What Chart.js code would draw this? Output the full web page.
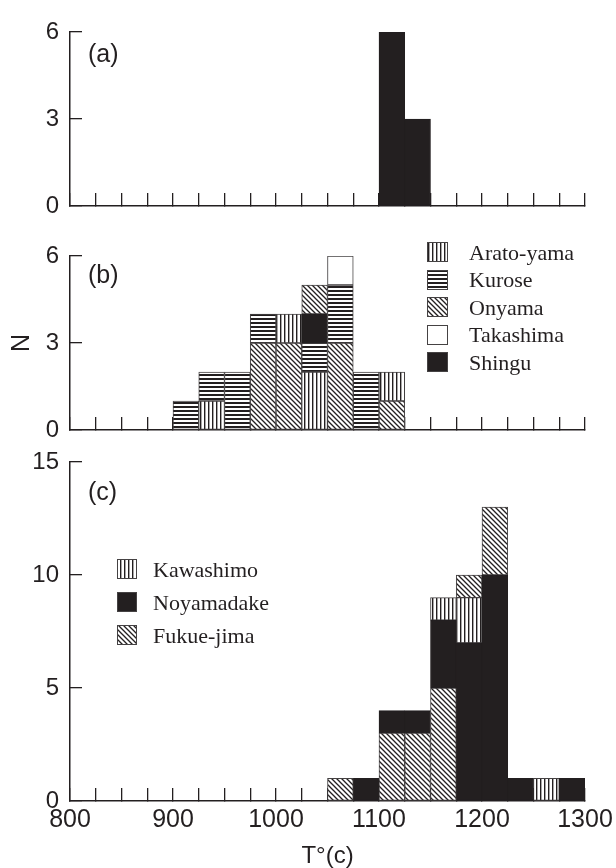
<!DOCTYPE html>
<html>
<head>
<meta charset="utf-8">
<script src="https://cdn.jsdelivr.net/npm/chart.js@4/dist/chart.umd.min.js"></script>
<style>
  html, body { margin: 0; padding: 0; background: #fff; }
  #wrap { position: relative; width: 616px; height: 868px; overflow: hidden; }
  #wrap canvas { position: absolute; left: 0; }
</style>
</head>
<body>
<div id="wrap">
  <canvas id="panelA" width="616" height="218" style="top:0px"></canvas>
  <canvas id="panelB" width="616" height="224" style="top:218px"></canvas>
  <canvas id="panelC" width="616" height="426" style="top:442px"></canvas>
</div>
<script>
// ---- data -------------------------------------------------------------
// lower edge of each 25-degree temperature bin (°C)
const binStarts = [800, 825, 850, 875, 900, 925, 950, 975, 1000, 1025,
                   1050, 1075, 1100, 1125, 1150, 1175, 1200, 1225, 1250, 1275];
const binWidth = 25;
const xTickEdges = [800, 825, 850, 875, 900, 925, 950, 975, 1000, 1025, 1050,
                    1075, 1100, 1125, 1150, 1175, 1200, 1225, 1250, 1275, 1300];
const xTickLabels = [800, 900, 1000, 1100, 1200, 1300];
const yTicksA = [0, 3, 6];
const yTicksB = [0, 3, 6];
const yTicksC = [0, 5, 10, 15];

// (a)
const countsA      = [0,0,0,0,0,0,0,0,0,0,0,0,6,3,0,0,0,0,0,0];
// (b)
const aratoYama    = [0,0,0,0,0,1,0,0,1,2,0,0,1,0,0,0,0,0,0,0];
const kurose       = [0,0,0,0,1,1,2,1,0,1,2,2,0,0,0,0,0,0,0,0];
const onyama       = [0,0,0,0,0,0,0,3,3,0,3,0,1,0,0,0,0,0,0,0];
const onyamaTop    = [0,0,0,0,0,0,0,0,0,1,0,0,0,0,0,0,0,0,0,0];
const takashima    = [0,0,0,0,0,0,0,0,0,0,1,0,0,0,0,0,0,0,0,0];
const shingu       = [0,0,0,0,0,0,0,0,0,1,0,0,0,0,0,0,0,0,0,0];
// (c)
const kawashimo    = [0,0,0,0,0,0,0,0,0,0,0,0,0,0,1,2,0,0,1,0];
const noyamadake   = [0,0,0,0,0,0,0,0,0,0,0,1,1,1,3,7,10,1,0,1];
const fukueJima    = [0,0,0,0,0,0,0,0,0,0,1,0,3,3,5,0,0,0,0,0];
const fukueJimaTop = [0,0,0,0,0,0,0,0,0,0,0,0,0,0,0,1,3,0,0,0];

// ---- styling ----------------------------------------------------------
const INK = '#231f20';
const EDGE = '#454243';
const SANS = "'Liberation Sans', Arial, Helvetica, sans-serif";
const SERIF = "'Liberation Serif', 'Times New Roman', serif";
Chart.defaults.font.family = SANS;
Chart.defaults.color = INK;

function hatch(ctx, kind) {
  const t = document.createElement('canvas');
  const g = t.getContext('2d');
  const s = kind === 'diag' ? 5 : 4;
  t.width = s; t.height = s;
  g.fillStyle = '#fff';
  g.fillRect(0, 0, s, s);
  g.fillStyle = INK;
  g.strokeStyle = INK;
  if (kind === 'vert') {
    g.fillRect(0, 0, 1.4, s);
  } else if (kind === 'horiz') {
    g.fillRect(0, 0, s, 2);
  } else if (kind === 'diag') {
    g.lineWidth = 1.3;
    g.beginPath();
    g.moveTo(-1, -1); g.lineTo(s + 1, s + 1);
    g.moveTo(-1, s - 1); g.lineTo(1, s + 1);
    g.moveTo(s - 1, -1); g.lineTo(s + 1, 1);
    g.stroke();
  }
  return ctx.createPattern(t, 'repeat');
}

function series(label, counts, fill, edge) {
  return {
    label,
    data: binStarts.map((b, i) => ({ x: b + binWidth / 2, y: counts[i] || null })),
    backgroundColor: fill,
    borderColor: edge || EDGE,
    borderWidth: 1,
    borderSkipped: false,
    barPercentage: 1,
    categoryPercentage: 1
  };
}

function xAxis(showLabels, height, withTitle) {
  return {
    type: 'linear',
    min: 800, max: 1300,
    offset: false,
    stacked: true,
    afterBuildTicks: s => { s.ticks = xTickEdges.map(v => ({ value: v })); },
    ticks: {
      autoSkip: false, maxRotation: 0, minRotation: 0,
      padding: 17,
      color: INK,
      font: { family: SANS, size: 25 },
      callback: v => (showLabels && xTickLabels.includes(v)) ? String(v) : ''
    },
    grid: { offset: false, drawOnChartArea: false, drawTicks: true, tickLength: -13, color: INK, lineWidth: 1.3 },
    border: { display: true, color: INK, width: 1.5 },
    title: {
      display: !!withTitle,
      text: 'T°(c)',
      color: INK,
      font: { family: SANS, size: 24, lineHeight: 1 },
      padding: { top: 0, bottom: 0 }
    },
    afterFit: s => { s.height = height; s.paddingLeft = 0; s.paddingRight = 0; }
  };
}

function yAxis(max, tickValues, titleText) {
  return {
    min: 0, max,
    stacked: true,
    afterBuildTicks: s => { s.ticks = tickValues.map(v => ({ value: v })); },
    ticks: { padding: 23, color: INK, font: { family: SANS, size: 24 } },
    grid: { drawOnChartArea: false, drawTicks: true, tickLength: -12, color: INK, lineWidth: 1.3 },
    border: { display: true, color: INK, width: 1.5 },
    title: {
      display: !!titleText,
      text: titleText || '',
      color: INK,
      font: { family: SANS, size: 25, lineHeight: 1 },
      padding: { top: 10, bottom: 0 }
    },
    afterFit: s => { s.width = 70; s.paddingTop = 0; s.paddingBottom = 0; }
  };
}

// panel letter, e.g. "(a)"
const panelTag = {
  id: 'panelTag',
  afterDraw(chart, args, o) {
    if (!o.text) return;
    const ctx = chart.ctx;
    ctx.save();
    ctx.fillStyle = INK;
    ctx.font = '25px ' + SANS;
    ctx.textBaseline = 'middle';
    ctx.textAlign = 'left';
    ctx.fillText(o.text, o.x, o.y);
    ctx.restore();
  }
};

// boxed legend with the same fills as the bars
const swatchLegend = {
  id: 'swatchLegend',
  afterDraw(chart, args, o) {
    if (!o.items) return;
    const ctx = chart.ctx;
    ctx.save();
    o.items.forEach((idx, i) => {
      const ds = chart.data.datasets[idx];
      const cy = o.y + i * o.step;
      const top = Math.round(cy - o.h / 2);
      ctx.fillStyle = ds.backgroundColor;
      ctx.fillRect(o.x, top, o.w, o.h);
      ctx.strokeStyle = EDGE;
      ctx.lineWidth = 1;
      ctx.strokeRect(o.x + 0.5, top + 0.5, o.w - 1, o.h - 1);
      ctx.fillStyle = INK;
      ctx.font = '22px ' + SERIF;
      ctx.textBaseline = 'alphabetic';
      ctx.textAlign = 'left';
      ctx.fillText(ds.label, o.textX, cy + 7.5);
    });
    ctx.restore();
  }
};

function baseOptions(padTop, x, y, tag, legend) {
  return {
    responsive: false,
    animation: false,
    layout: { padding: { top: padTop, right: 31, bottom: 0, left: 0 } },
    scales: { x, y },
    plugins: {
      legend: { display: false },
      tooltip: { enabled: false },
      panelTag: tag,
      swatchLegend: legend || {}
    }
  };
}

// ---- panel (a) --------------------------------------------------------
const ctxA = document.getElementById('panelA').getContext('2d');
new Chart(ctxA, {
  type: 'bar',
  data: { datasets: [series('(a)', countsA, INK, INK)] },
  options: baseOptions(32, xAxis(false, 12), yAxis(6, yTicksA), { text: '(a)', x: 88, y: 55 }),
  plugins: [panelTag, swatchLegend]
});

// ---- panel (b) --------------------------------------------------------
const ctxB = document.getElementById('panelB').getContext('2d');
const vertB = hatch(ctxB, 'vert'), horizB = hatch(ctxB, 'horiz'), diagB = hatch(ctxB, 'diag');
new Chart(ctxB, {
  type: 'bar',
  data: {
    datasets: [
      series('Onyama', onyama, diagB),          // 0
      series('Arato-yama', aratoYama, vertB),   // 1
      series('Kurose', kurose, horizB),         // 2
      series('Shingu', shingu, INK, INK),       // 3
      series('Onyama', onyamaTop, diagB),       // 4
      series('Takashima', takashima, '#ffffff') // 5
    ]
  },
  options: baseOptions(38, xAxis(false, 12), yAxis(6, yTicksB, 'N'),
    { text: '(b)', x: 88, y: 58 },
    { items: [1, 2, 0, 5, 3], x: 427, y: 34, step: 27.6, w: 21, h: 20, textX: 469 }),
  plugins: [panelTag, swatchLegend]
});

// ---- panel (c) --------------------------------------------------------
const ctxC = document.getElementById('panelC').getContext('2d');
const vertC = hatch(ctxC, 'vert'), diagC = hatch(ctxC, 'diag');
new Chart(ctxC, {
  type: 'bar',
  data: {
    datasets: [
      series('Fukue-jima', fukueJima, diagC),     // 0
      series('Noyamadake', noyamadake, INK, INK), // 1
      series('Kawashimo', kawashimo, vertC),      // 2
      series('Fukue-jima', fukueJimaTop, diagC)   // 3
    ]
  },
  options: baseOptions(20, xAxis(true, 67, true), yAxis(15, yTicksC),
    { text: '(c)', x: 88, y: 51 },
    { items: [2, 1, 0], x: 117, y: 127, step: 33, w: 20, h: 20, textX: 153 }),
  plugins: [panelTag, swatchLegend]
});
</script>
</body>
</html>
